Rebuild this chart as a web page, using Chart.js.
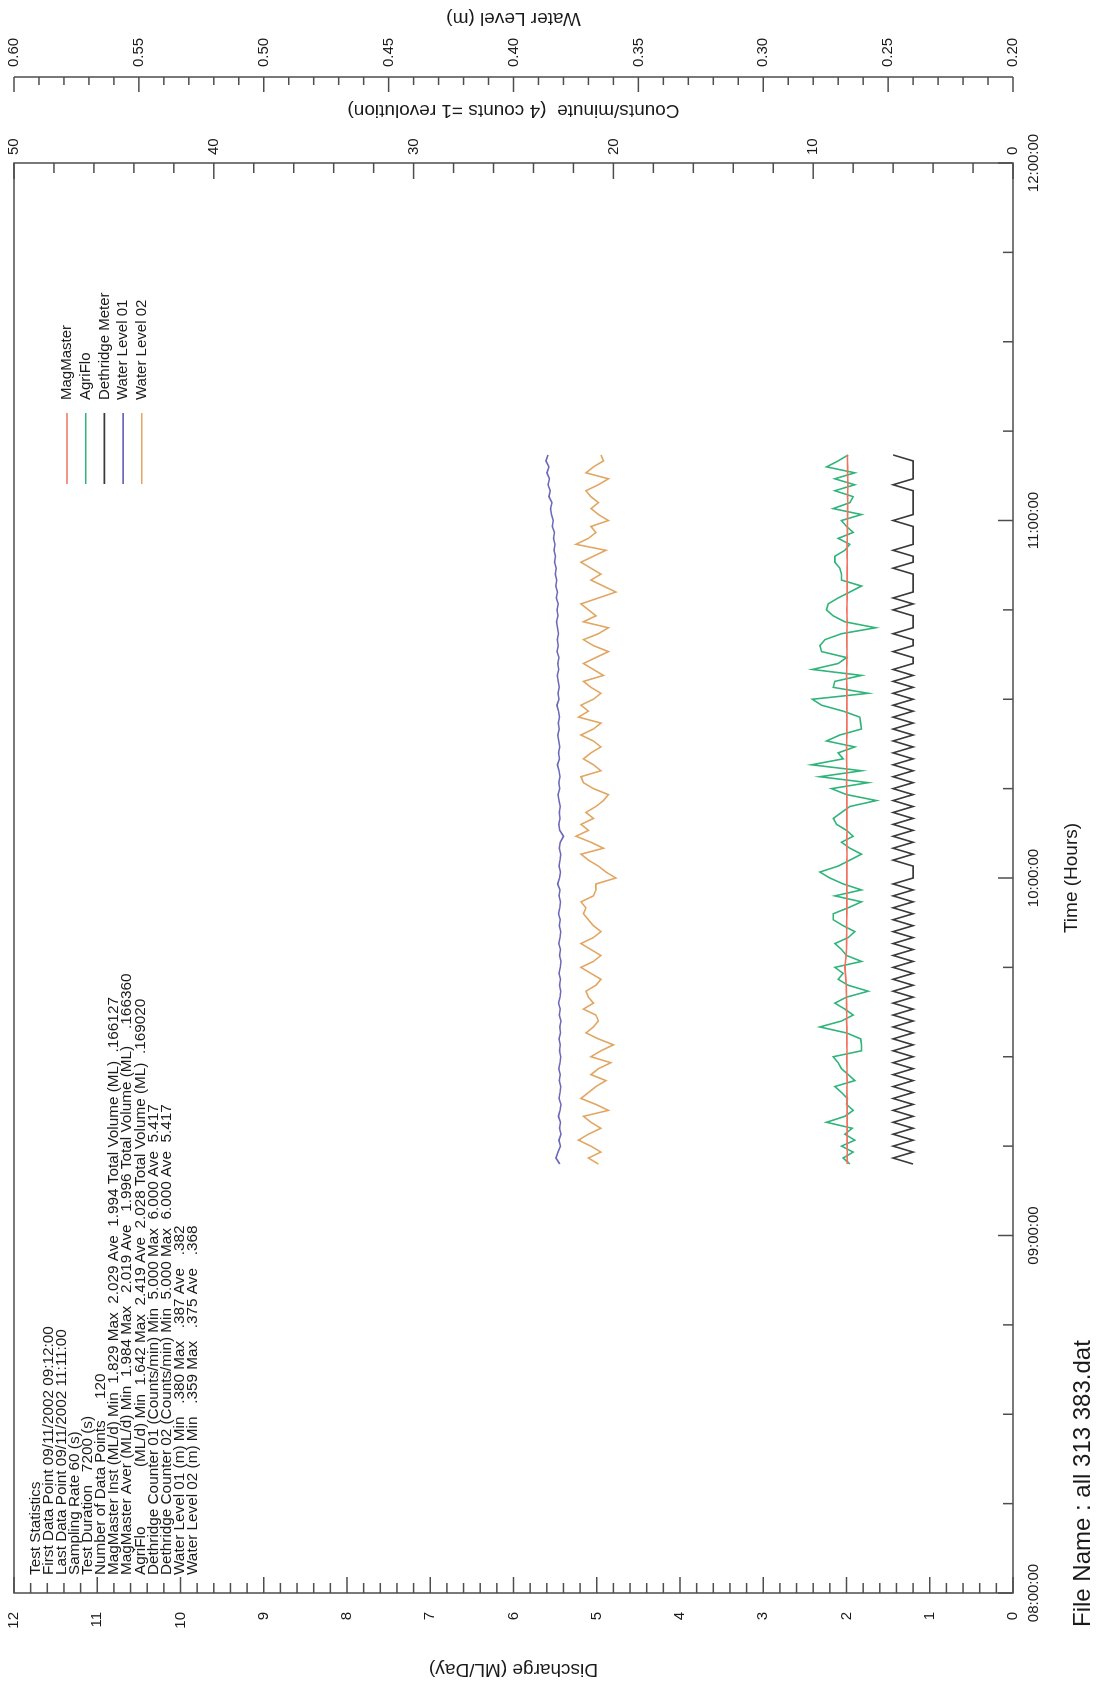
<!DOCTYPE html>
<html>
<head>
<meta charset="utf-8">
<script src="https://cdn.jsdelivr.net/npm/chart.js@4.4.0/dist/chart.umd.min.js"></script>
<style>
  html, body { margin: 0; padding: 0; background: #fff; overflow: hidden; }
  #page { position: relative; width: 1096px; height: 1684px; overflow: hidden; background: #fff; }
  /* the plot is laid out in landscape and turned a quarter-turn onto the portrait page */
  #chart { position: absolute; left: 0; top: 0; width: 1684px; height: 1096px;
           transform-origin: 0 0; transform: translate(0, 1684px) rotate(-90deg); }
</style>
</head>
<body>
<div id="page"><canvas id="chart" width="1684" height="1096"></canvas></div>
<script>
// ---- data -------------------------------------------------------------
const firstSampleMinute = 72;          // 09:12:00, minutes after 08:00:00
const sampleStepMinutes = 1;           // sampling rate 60 s

const timeTickLabels = ['08:00:00', '09:00:00', '10:00:00', '11:00:00', '12:00:00'];

const seriesNames = ['MagMaster', 'AgriFlo', 'Dethridge Meter', 'Water Level 01', 'Water Level 02'];
const seriesColors = ['#ef735f', '#2fb47a', '#3a3a3a', '#6d69ba', '#e2a662'];

// MagMaster (ML/d)
const magMaster = [
  1.990,1.992,1.991,1.993,1.992,1.994,1.993,1.992,1.994,1.993,
  1.994,1.993,1.995,1.994,1.993,1.995,1.994,1.996,1.995,1.994,
  1.996,1.995,1.997,1.996,1.998,1.997,1.999,1.998,2.000,2.001,
  2.003,2.008,2.014,2.019,2.012,2.004,2.000,1.999,1.998,1.997,
  1.998,1.997,1.996,1.997,1.996,1.995,1.996,1.997,1.996,1.995,
  1.996,1.995,1.994,1.995,1.996,1.995,1.994,1.995,1.996,1.995,
  1.996,1.997,1.996,1.997,1.998,1.997,1.996,1.997,1.998,1.997,
  1.998,1.997,1.996,1.997,1.996,1.995,1.996,1.997,1.996,1.995,
  1.996,1.997,1.998,1.997,1.996,1.995,1.994,1.995,1.996,1.995,
  1.994,1.993,1.994,1.995,1.994,1.993,1.992,1.993,1.994,1.993,
  1.992,1.991,1.992,1.993,1.992,1.991,1.990,1.989,1.988,1.987,
  1.986,1.985,1.986,1.985,1.984,1.985,1.986,1.987,1.988,1.990
];

// AgriFlo (ML/d)
const agriFlo = [
  1.96,2.04,1.92,2.06,1.90,2.02,1.93,2.24,2.02,1.92,
  2.00,1.99,2.06,2.14,1.90,1.98,2.06,2.10,2.16,1.82,
  1.82,1.83,2.00,2.32,2.06,1.92,2.02,2.14,2.00,1.74,
  1.98,2.10,2.04,2.14,1.82,2.00,2.06,2.14,1.98,1.90,
  2.04,2.16,2.16,1.98,1.82,2.14,1.82,2.04,2.20,2.32,
  2.10,1.96,1.82,1.96,2.06,1.92,2.00,2.12,2.16,2.06,
  1.96,1.642,2.00,2.18,1.74,2.32,1.82,2.419,2.04,2.10,
  1.90,2.24,2.08,1.82,1.83,1.84,2.04,2.30,2.41,1.74,
  2.16,2.14,1.82,2.41,2.10,2.00,2.30,2.32,2.26,2.06,
  1.65,2.02,2.16,2.24,2.22,2.10,1.96,1.82,2.06,2.06,
  2.08,2.14,2.14,2.02,1.96,2.10,1.92,2.00,2.06,1.82,
  2.16,1.96,1.92,2.14,1.90,2.14,1.90,2.24,2.10,1.98
];

// Dethridge meter (counts/min)
const dethridge = [
  5,6,5,6,5,6,5,6,5,6,
  5,6,5,6,5,6,5,6,5,6,
  5,6,5,6,5,6,5,6,5,6,
  5,6,5,6,5,6,5,6,5,6,
  5,6,5,6,5,6,5,6,5,5,
  5,6,5,6,5,6,5,6,5,6,
  5,6,5,6,5,6,5,6,5,6,
  5,6,5,6,5,6,5,6,5,6,
  5,6,5,6,5,5,6,5,5,6,
  5,5,5,6,5,6,5,5,5,5,
  6,5,5,6,5,5,5,5,6,5,
  5,5,5,5,6,5,5,5,5,6
];

// Water level 01 (m)
const waterLevel01 = [
  .3815,.3830,.3822,.3812,.3818,.3810,.3816,.3812,.3820,.3814,
  .3810,.3818,.3814,.3811,.3817,.3813,.3819,.3814,.3811,.3816,
  .3813,.3818,.3812,.3815,.3810,.3817,.3813,.3820,.3814,.3811,
  .3816,.3812,.3818,.3813,.3810,.3816,.3812,.3819,.3814,.3811,
  .3817,.3813,.3820,.3815,.3812,.3818,.3814,.3823,.3816,.3812,
  .3818,.3814,.3811,.3817,.3813,.3800,.3815,.3819,.3814,.3817,
  .3813,.3818,.3822,.3815,.3819,.3814,.3818,.3824,.3816,.3820,
  .3815,.3819,.3823,.3817,.3821,.3816,.3820,.3826,.3818,.3822,
  .3817,.3821,.3825,.3819,.3823,.3818,.3826,.3821,.3825,.3820,
  .3824,.3828,.3822,.3826,.3821,.3829,.3824,.3831,.3827,.3833,
  .3829,.3836,.3832,.3838,.3834,.3840,.3836,.3845,.3841,.3848,
  .3852,.3846,.3858,.3853,.3862,.3856,.3866,.3858,.3870,.3862
];

// Water level 02 (m)
const waterLevel02 = [
  .366,.370,.365,.369,.374,.370,.365,.369,.372,.362,
  .367,.373,.370,.367,.363,.369,.366,.361,.369,.365,
  .360,.366,.371,.368,.366,.367,.372,.368,.370,.371,
  .367,.365,.369,.373,.368,.365,.369,.373,.368,.365,
  .368,.370,.372,.371,.373,.368,.367,.367,.359,.363,
  .366,.370,.373,.364,.369,.375,.370,.373,.368,.371,
  .367,.364,.362,.368,.372,.373,.365,.368,.372,.369,
  .365,.368,.373,.368,.365,.374,.370,.373,.368,.365,
  .369,.372,.364,.368,.372,.367,.362,.368,.372,.366,
  .362,.372,.367,.370,.373,.366,.359,.364,.369,.365,
  .369,.373,.368,.363,.375,.370,.367,.369,.362,.366,
  .369,.366,.369,.371,.366,.362,.371,.368,.364,.365
];

const statLines = [
  'Test Statistics',
  'First Data Point 09/11/2002 09:12:00',
  'Last Data Point 09/11/2002 11:11:00',
  'Sampling Rate 60 (s)',
  'Test Duration   7200 (s)',
  'Number of Data Points     120',
  'MagMaster Inst (ML/d) Min  1.829 Max  2.029 Ave  1.994 Total Volume (ML)  .166127',
  'MagMaster Aver (ML/d) Min  1.984 Max   2.019 Ave   1.996 Total Volume (ML)    .166360',
  'AgriFlo              (ML/d) Min  1.642 Max  2.419 Ave  2.028 Total Volume (ML)  .169020',
  'Dethridge Counter 01 (Counts/min) Min  5.000 Max  6.000 Ave  5.417',
  'Dethridge Counter 02 (Counts/min) Min  5.000 Max  6.000 Ave  5.417',
  'Water Level 01 (m) Min   .380 Max   .387 Ave   .382',
  'Water Level 02 (m) Min   .359 Max   .375 Ave   .368'
];

const titleTime = 'Time (Hours)';
const titleDischarge = 'Discharge (ML/Day)';
const titleCounts = 'Counts/minute  (4 counts =1 revolution)';
const titleWater = 'Water Level (m)';
const fileNameText = 'File Name : all 313 383.dat';

// ---- helpers -------------------------------------------------------------
const FONT = '"Liberation Sans", Arial, Helvetica, sans-serif';
const INK = '#1a1a1a';
const AXIS = '#4d4d4d';

function toPoints(values) {
  return values.map((v, i) => ({ x: firstSampleMinute + i * sampleStepMinutes, y: v }));
}

function line(ctx, x1, y1, x2, y2) {
  ctx.beginPath(); ctx.moveTo(x1, y1); ctx.lineTo(x2, y2); ctx.stroke();
}

// keep the plot frame exactly where the layout puts it (no end-label overhang)
function fixWidth(w) {
  return s => { s.width = w; s.paddingTop = 0; s.paddingBottom = 0; };
}

// frame, inward tick marks and the water-level axis line
const frameAndTicks = {
  id: 'frameAndTicks',
  afterDraw(chart) {
    const ctx = chart.ctx, a = chart.chartArea;
    const sx = chart.scales.x, sq = chart.scales.q, sc = chart.scales.c, sw = chart.scales.w;
    ctx.save();
    ctx.strokeStyle = AXIS;
    ctx.lineWidth = 1.5;
    ctx.strokeRect(a.left, a.top, a.right - a.left, a.bottom - a.top);
    line(ctx, sw.left, a.top, sw.left, a.bottom);

    // discharge: minor every 0.2, major every 1
    for (let k = 0; k <= 60; k++) {
      const y = sq.getPixelForValue(k / 5);
      line(ctx, a.left, y, a.left + (k % 5 === 0 ? 16 : 10), y);
    }
    // time: every 15 minutes, hours longer
    for (let k = 0; k <= 16; k++) {
      const x = sx.getPixelForValue(k * 15);
      line(ctx, x, a.bottom, x, a.bottom - (k % 4 === 0 ? 15 : 10));
    }
    // counts: every 2, major every 10
    for (let k = 0; k <= 25; k++) {
      const y = sc.getPixelForValue(k * 2);
      line(ctx, a.right, y, a.right - (k % 5 === 0 ? 16 : 10), y);
    }
    // water level: every 0.01, major every 0.05
    for (let k = 20; k <= 60; k++) {
      const y = sw.getPixelForValue(k / 100);
      line(ctx, sw.left, y, sw.left - (k % 5 === 0 ? 15 : 8), y);
    }
    ctx.restore();
  }
};

// axis titles, legend, statistics block and file name
const annotations = {
  id: 'annotations',
  afterDraw(chart) {
    const ctx = chart.ctx, a = chart.chartArea;
    const sw = chart.scales.w;
    const midY = (a.top + a.bottom) / 2;
    ctx.save();
    ctx.fillStyle = INK;
    ctx.textAlign = 'center';
    ctx.textBaseline = 'middle';

    ctx.font = '19px ' + FONT;
    ctx.fillText(titleTime, (a.left + a.right) / 2, 1072);

    const vertical = (text, x, y) => {
      ctx.save(); ctx.translate(x, y); ctx.rotate(-Math.PI / 2);
      ctx.fillText(text, 0, 0); ctx.restore();
    };
    vertical(titleDischarge, 15, midY);
    vertical(titleCounts, a.right + 53, midY);
    vertical(titleWater, sw.left + 59, midY);

    ctx.textAlign = 'left';
    ctx.font = '24px ' + FONT;
    ctx.fillText(fileNameText, 57, 1083);

    // statistics block
    ctx.font = '15.3px ' + FONT;
    statLines.forEach((s, k) => ctx.fillText(s, a.left + 18, a.top + 21.5 + k * 13.1));

    // legend
    ctx.font = '15px ' + FONT;
    const lx = 1200, ly = a.top + 53;
    chart.data.datasets.forEach((ds, k) => {
      const y = ly + k * 18.7;
      ctx.strokeStyle = ds.borderColor;
      ctx.lineWidth = 1.6;
      line(ctx, lx, y, lx + 71, y);
      ctx.fillText(ds.label, lx + 84, y);
    });
    ctx.restore();
  }
};

// ---- chart -------------------------------------------------------------
const datasetDefs = [
  { data: magMaster, axis: 'q' },
  { data: agriFlo, axis: 'q' },
  { data: dethridge, axis: 'c' },
  { data: waterLevel01, axis: 'w' },
  { data: waterLevel02, axis: 'w' }
];

const tickFont = { family: FONT, size: 15 };

new Chart(document.getElementById('chart'), {
  type: 'line',
  data: {
    datasets: datasetDefs.map((d, k) => ({
      label: seriesNames[k],
      data: toPoints(d.data),
      yAxisID: d.axis,
      borderColor: seriesColors[k],
      backgroundColor: seriesColors[k],
      borderWidth: 1.6,
      pointRadius: 0,
      tension: 0,
      fill: false
    }))
  },
  options: {
    responsive: false,
    animation: false,
    devicePixelRatio: 1,
    layout: { padding: { top: 14, left: 0, right: 0, bottom: 0 } },
    plugins: { legend: { display: false }, tooltip: { enabled: false } },
    scales: {
      x: {
        type: 'linear', position: 'bottom', min: 0, max: 240,
        grid: { display: false, drawTicks: false }, border: { display: false },
        afterFit(s) { s.height = 83; s.paddingLeft = 0; s.paddingRight = 0; },
        ticks: {
          stepSize: 60, autoSkip: false, maxRotation: 0, minRotation: 0, padding: 12,
          font: tickFont, color: INK,
          callback: v => timeTickLabels[Math.round(v / 60)]
        }
      },
      q: {
        type: 'linear', position: 'left', min: 0, max: 12,
        grid: { display: false, drawTicks: false }, border: { display: false },
        afterFit: fixWidth(91),
        ticks: { stepSize: 1, autoSkip: false, padding: 19, font: tickFont, color: INK }
      },
      c: {
        type: 'linear', position: 'right', weight: 0, min: 0, max: 50,
        grid: { display: false, drawTicks: false }, border: { display: false },
        afterFit: fixWidth(86),
        ticks: { stepSize: 10, autoSkip: false, padding: 8, font: tickFont, color: INK }
      },
      w: {
        type: 'linear', position: 'right', weight: 1, min: 0.2, max: 0.6,
        grid: { display: false, drawTicks: false }, border: { display: false },
        afterFit: fixWidth(77),
        ticks: { stepSize: 0.05, autoSkip: false, padding: 10, font: tickFont, color: INK,
                 callback: v => v.toFixed(2) }
      }
    }
  },
  plugins: [frameAndTicks, annotations]
});
</script>
</body>
</html>
